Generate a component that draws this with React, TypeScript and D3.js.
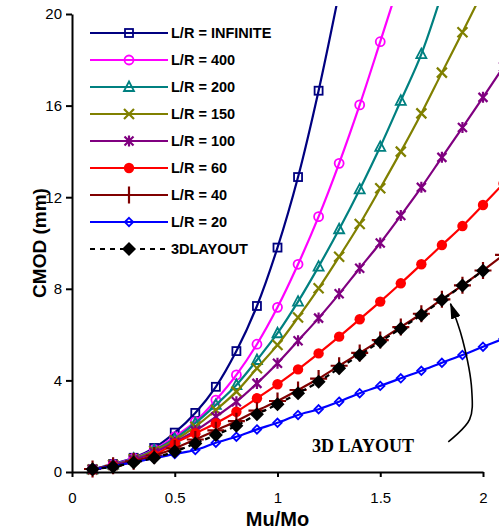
import * as d3 from "d3";
import React, { useEffect, useRef } from "react";

// Mu/Mo values where each series was sampled
const muMo = [0.1, 0.2, 0.3, 0.4, 0.5, 0.6, 0.7, 0.8, 0.9, 1.0, 1.1, 1.2, 1.3, 1.4, 1.5, 1.6, 1.7, 1.8, 1.9, 2.0, 2.1];

// CMOD (mm) per series
const lrInfinite = [0.12, 0.35, 0.62, 1.05, 1.72, 2.58, 3.72, 5.28, 7.25, 9.8, 12.88, 16.65, 20.95];
const lr400 = [0.12, 0.33, 0.6, 0.98, 1.54, 2.2, 3.14, 4.24, 5.58, 7.19, 9.07, 11.15, 13.48, 16.03, 18.79, 21.6];
const lr200 = [0.12, 0.32, 0.58, 0.95, 1.45, 2.13, 2.93, 3.8, 4.89, 6.06, 7.44, 8.97, 10.6, 12.34, 14.2, 16.21, 18.25, 20.9];
const lr150 = [0.11, 0.31, 0.56, 0.92, 1.38, 1.98, 2.71, 3.51, 4.53, 5.55, 6.75, 8.02, 9.4, 10.83, 12.39, 13.99, 15.66, 17.44, 19.2, 21.0];
const lr100 = [0.11, 0.3, 0.53, 0.85, 1.3, 1.8, 2.41, 3.07, 3.87, 4.75, 5.73, 6.72, 7.78, 8.9, 10.0, 11.2, 12.43, 13.74, 15.04, 16.36, 17.7];
const lr60 = [0.1, 0.27, 0.45, 0.74, 1.25, 1.69, 2.13, 2.63, 3.22, 3.83, 4.48, 5.18, 5.91, 6.67, 7.44, 8.24, 9.07, 9.91, 10.74, 11.66, 12.6];
const lr40 = [0.13, 0.27, 0.47, 0.72, 1.03, 1.42, 1.82, 2.22, 2.68, 3.1, 3.58, 4.08, 4.64, 5.2, 5.76, 6.33, 6.91, 7.54, 8.15, 8.8, 9.48];
const lr20 = [0.1, 0.27, 0.42, 0.6, 0.79, 0.96, 1.28, 1.54, 1.86, 2.15, 2.49, 2.74, 3.07, 3.44, 3.76, 4.09, 4.42, 4.77, 5.11, 5.47, 5.82];
const layout3d = [0.12, 0.23, 0.41, 0.62, 0.89, 1.25, 1.62, 2.02, 2.52, 2.96, 3.44, 3.94, 4.53, 5.11, 5.69, 6.27, 6.86, 7.51, 8.14, 8.79];

const seriesNames = [
  "L/R = INFINITE",
  "L/R = 400",
  "L/R = 200",
  "L/R = 150",
  "L/R = 100",
  "L/R = 60",
  "L/R = 40",
  "L/R = 20",
  "3DLAYOUT",
];
const seriesValues = [lrInfinite, lr400, lr200, lr150, lr100, lr60, lr40, lr20, layout3d];
const seriesColors = ["#000080", "#ff00ff", "#008080", "#808000", "#800080", "#ff0000", "#800000", "#0000ff", "#000000"];
const markerTypes = ["square", "circle", "triangle", "x", "asterisk", "dot", "plus", "diamond", "bigDiamond"];

const xTicks = [0, 0.5, 1, 1.5, 2];
const yTicks = [0, 4, 8, 12, 16, 20];

// annotation arrow, in data units
const arrowPoints: [number, number][] = [
  [1.831, 1.32],
  [1.935, 2.3],
  [1.945, 3.6],
  [1.9, 5.8],
  [1.842, 7.35],
];
const annotation = { text: "3D LAYOUT", x: 1.416, y: 0.89 };

const width = 499;
const height = 531;

const x = d3.scaleLinear().domain([0, 2]).range([72, 483]);
const y = d3.scaleLinear().domain([0, 20]).range([472, 14]);

const Marker = ({ type, cx, cy, color }: { type: string; cx: number; cy: number; color: string }) => {
  switch (type) {
    case "square":
      return <rect x={cx - 4} y={cy - 4} width={8} height={8} fill="none" stroke={color} strokeWidth={1.8} />;
    case "circle":
      return <circle cx={cx} cy={cy} r={4.5} fill="none" stroke={color} strokeWidth={1.8} />;
    case "triangle":
      return (
        <path
          d={`M${cx},${cy - 5.5}L${cx + 5},${cy + 4}L${cx - 5},${cy + 4}Z`}
          fill="none"
          stroke={color}
          strokeWidth={1.8}
        />
      );
    case "x":
      return (
        <path
          d={`M${cx - 5},${cy - 5}L${cx + 5},${cy + 5}M${cx - 5},${cy + 5}L${cx + 5},${cy - 5}`}
          stroke={color}
          strokeWidth={2.2}
        />
      );
    case "asterisk":
      return (
        <path
          d={`M${cx - 4.5},${cy - 4.5}L${cx + 4.5},${cy + 4.5}M${cx - 4.5},${cy + 4.5}L${cx + 4.5},${cy - 4.5}M${cx},${cy - 5.5}L${cx},${cy + 5.5}`}
          stroke={color}
          strokeWidth={2.2}
        />
      );
    case "dot":
      return <circle cx={cx} cy={cy} r={5.2} fill={color} />;
    case "plus":
      return (
        <path d={`M${cx - 8.5},${cy}L${cx + 8.5},${cy}M${cx},${cy - 8.5}L${cx},${cy + 8.5}`} stroke={color} strokeWidth={2.2} />
      );
    case "diamond":
      return (
        <path
          d={`M${cx},${cy - 4.2}L${cx + 4.2},${cy}L${cx},${cy + 4.2}L${cx - 4.2},${cy}Z`}
          fill="none"
          stroke={color}
          strokeWidth={1.8}
        />
      );
    case "bigDiamond":
      return <path d={`M${cx},${cy - 7}L${cx + 7},${cy}L${cx},${cy + 7}L${cx - 7},${cy}Z`} fill={color} />;
    default:
      return null;
  }
};

export default function App() {
  const xAxisRef = useRef<SVGGElement | null>(null);
  const yAxisRef = useRef<SVGGElement | null>(null);

  useEffect(() => {
    if (!xAxisRef.current || !yAxisRef.current) return;

    d3.select(xAxisRef.current)
      .call(d3.axisBottom(x).tickValues(xTicks).tickSize(5).tickSizeOuter(0).tickPadding(15).tickFormat(d3.format("")))
      .call((g) => g.select(".domain").attr("stroke-width", 2))
      .call((g) => g.selectAll(".tick line").attr("stroke-width", 2))
      .call((g) => g.selectAll(".tick text").attr("font-size", 15).attr("font-family", "Arial, 'Liberation Sans'").attr("fill", "#000"));

    d3.select(yAxisRef.current)
      .call(d3.axisLeft(y).tickValues(yTicks).tickSize(6).tickSizeOuter(0).tickPadding(4))
      .call((g) => g.select(".domain").attr("stroke-width", 2))
      .call((g) => g.selectAll(".tick line").attr("stroke-width", 2))
      .call((g) => g.selectAll(".tick text").attr("font-size", 15).attr("font-family", "Arial, 'Liberation Sans'").attr("fill", "#000"));
  }, []);

  const line = d3
    .line<number>()
    .x((_, i) => x(muMo[i]))
    .y((d) => y(d))
    .curve(d3.curveCatmullRom);

  const arrowLine = d3
    .line<[number, number]>()
    .x((d) => x(d[0]))
    .y((d) => y(d[1]))
    .curve(d3.curveCatmullRom);

  const legendX = 90;
  const legendY = 33;
  const legendStep = 27;

  return (
    <svg width={width} height={height} style={{ position: "absolute", left: 0, top: 0, background: "#fff" }}>
      <defs>
        <clipPath id="plot">
          <rect x={60} y={6} width={439} height={480} />
        </clipPath>
        <marker id="arrowHead" viewBox="0 0 16 10" refX={15} refY={5} markerWidth={16} markerHeight={10} markerUnits="userSpaceOnUse" orient="auto">
          <path d="M0,0L16,5L0,10Z" fill="#000" />
        </marker>
      </defs>

      <g clipPath="url(#plot)">
        {seriesValues.map((vals, s) => (
          <g key={seriesNames[s]}>
            <path
              d={line(vals) ?? ""}
              fill="none"
              stroke={seriesColors[s]}
              strokeWidth={2.2}
              strokeDasharray={s === 8 ? "5,4" : undefined}
            />
            {vals.map((v, i) => (
              <Marker key={i} type={markerTypes[s]} cx={x(muMo[i])} cy={y(v)} color={seriesColors[s]} />
            ))}
          </g>
        ))}
      </g>

      <g ref={xAxisRef} transform={`translate(0,${y(0)})`} />
      <g ref={yAxisRef} transform={`translate(${x(0)},0)`} />

      {/* legend */}
      <g fontFamily="Arial, 'Liberation Sans'" fontWeight="bold" fontSize={14.5}>
        {seriesNames.map((name, s) => {
          const ly = legendY + s * legendStep;
          return (
            <g key={name}>
              <line
                x1={legendX}
                x2={legendX + 78}
                y1={ly}
                y2={ly}
                stroke={seriesColors[s]}
                strokeWidth={2.2}
                strokeDasharray={s === 8 ? "5,5" : undefined}
              />
              <Marker type={markerTypes[s]} cx={legendX + 39} cy={ly} color={seriesColors[s]} />
              <text x={legendX + 81} y={ly} dy="0.36em" fill="#000">
                {name}
              </text>
            </g>
          );
        })}
      </g>

      {/* annotation */}
      <path d={arrowLine(arrowPoints) ?? ""} fill="none" stroke="#000" strokeWidth={1.6} markerEnd="url(#arrowHead)" />
      <text
        x={x(annotation.x)}
        y={y(annotation.y)}
        textAnchor="middle"
        fontFamily="'Times New Roman', 'Liberation Serif'"
        fontWeight="bold"
        fontSize={18}
      >
        {annotation.text}
      </text>

      {/* axis titles */}
      <text x={x(1)} y={526} textAnchor="middle" fontFamily="Arial, 'Liberation Sans'" fontWeight="bold" fontSize={20}>
        Mu/Mo
      </text>
      <text
        transform={`translate(46,${y(10)}) rotate(-90)`}
        textAnchor="middle"
        fontFamily="Arial, 'Liberation Sans'"
        fontWeight="bold"
        fontSize={19}
      >
        CMOD (mm)
      </text>
    </svg>
  );
}
